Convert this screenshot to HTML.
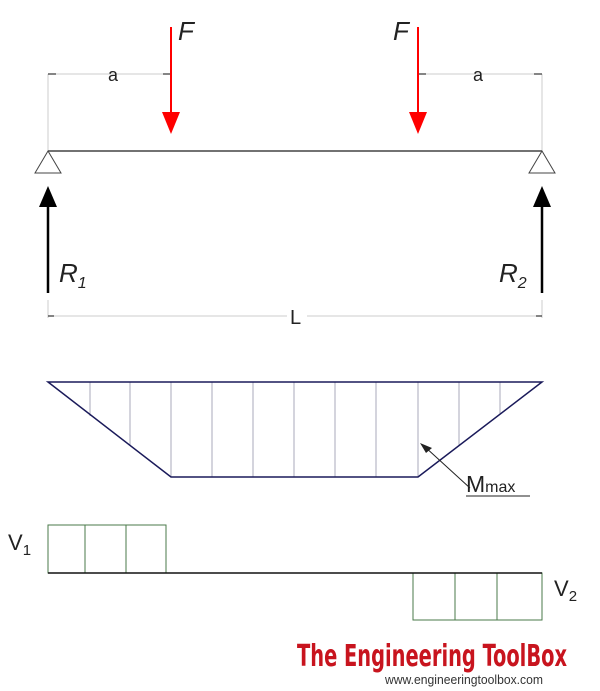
<!DOCTYPE html>
<html><head><style>body{margin:0;background:#fff}svg{display:block}</style></head><body>
<svg width="600" height="691" xmlns="http://www.w3.org/2000/svg" font-family="Liberation Sans, sans-serif">
<rect width="600" height="691" fill="#fff"/>
<g stroke="#ccc" stroke-width="1" fill="none">
<line x1="48" y1="74" x2="48" y2="150"/><line x1="48" y1="74" x2="171" y2="74"/>
<line x1="542" y1="74" x2="542" y2="150"/><line x1="418" y1="74" x2="542" y2="74"/>
<line x1="48" y1="300" x2="48" y2="318"/><line x1="542" y1="300" x2="542" y2="318"/>
<line x1="48" y1="316" x2="542" y2="316"/>
</g>
<g stroke="#333" stroke-width="1.2">
<line x1="48" y1="74" x2="56" y2="74"/><line x1="163" y1="74" x2="171" y2="74"/>
<line x1="418" y1="74" x2="426" y2="74"/><line x1="534" y1="74" x2="542" y2="74"/>
<line x1="48" y1="316" x2="54" y2="316"/><line x1="536" y1="316" x2="542" y2="316"/>
</g>
<rect x="287" y="306" width="20" height="20" fill="#fff"/>
<text x="108" y="81" font-size="18" fill="#222">a</text>
<text x="473" y="81" font-size="18" fill="#222">a</text>
<text x="290" y="324" font-size="20" fill="#222">L</text>
<line x1="48" y1="151" x2="542" y2="151" stroke="#444" stroke-width="1.5"/>
<polygon points="48,151 35,173 61,173" fill="#fff" stroke="#444"/>
<polygon points="542,151 529,173 555,173" fill="#fff" stroke="#444"/>
<line x1="171" y1="27" x2="171" y2="114" stroke="#f00" stroke-width="2"/>
<polygon points="162,112 180,112 171,134" fill="#f00"/>
<line x1="418" y1="27" x2="418" y2="114" stroke="#f00" stroke-width="2"/>
<polygon points="409,112 427,112 418,134" fill="#f00"/>
<text x="178" y="40" font-size="26" font-style="italic" fill="#222">F</text>
<text x="393" y="40" font-size="26" font-style="italic" fill="#222">F</text>
<line x1="48" y1="205" x2="48" y2="293" stroke="#000" stroke-width="2.5"/>
<polygon points="39,207 57,207 48,186" fill="#000"/>
<line x1="542" y1="205" x2="542" y2="293" stroke="#000" stroke-width="2.5"/>
<polygon points="533,207 551,207 542,186" fill="#000"/>
<text x="59" y="282" font-size="26" font-style="italic" fill="#222">R<tspan font-size="16" dy="6">1</tspan></text>
<text x="499" y="282" font-size="26" font-style="italic" fill="#222">R<tspan font-size="16" dy="6">2</tspan></text>
<g stroke="#aab" stroke-width="1">
<line x1="90" y1="382" x2="90" y2="416"/><line x1="130" y1="382" x2="130" y2="446"/>
<line x1="171" y1="382" x2="171" y2="477"/><line x1="212" y1="382" x2="212" y2="477"/>
<line x1="253" y1="382" x2="253" y2="477"/><line x1="294" y1="382" x2="294" y2="477"/>
<line x1="335" y1="382" x2="335" y2="477"/><line x1="376" y1="382" x2="376" y2="477"/>
<line x1="418" y1="382" x2="418" y2="477"/><line x1="459" y1="382" x2="459" y2="446"/>
<line x1="500" y1="382" x2="500" y2="414"/>
</g>
<polygon points="48,382 542,382 418,477 171,477" fill="none" stroke="#1a1a5a" stroke-width="1.5"/>
<line x1="470" y1="488" x2="424" y2="446" stroke="#222"/>
<polygon points="420,443 432,448 426,453" fill="#222"/>
<line x1="466" y1="496" x2="530" y2="496" stroke="#222"/>
<text x="466" y="492" font-size="23" fill="#222">M<tspan font-size="16">max</tspan></text>
<g fill="none" stroke="#4a7a4a" stroke-width="1">
<rect x="48" y="525" width="118" height="48"/>
<line x1="85" y1="525" x2="85" y2="573"/><line x1="126" y1="525" x2="126" y2="573"/>
<rect x="413" y="573" width="129" height="47"/>
<line x1="455" y1="573" x2="455" y2="620"/><line x1="497" y1="573" x2="497" y2="620"/>
</g>
<line x1="48" y1="573" x2="542" y2="573" stroke="#111" stroke-width="1.5"/>
<text x="8" y="550" font-size="22" fill="#222">V<tspan font-size="15" dy="5">1</tspan></text>
<text x="554" y="596" font-size="22" fill="#222">V<tspan font-size="15" dy="5">2</tspan></text>
<text x="297" y="666" font-size="30" font-weight="bold" fill="#c8141e" font-family="DejaVu Sans Condensed, Liberation Sans Narrow, sans-serif" textLength="270" lengthAdjust="spacingAndGlyphs">The Engineering ToolBox</text>
<text x="385" y="684" font-size="13" fill="#333" textLength="158" lengthAdjust="spacingAndGlyphs">www.engineeringtoolbox.com</text>
</svg>
</body></html>
